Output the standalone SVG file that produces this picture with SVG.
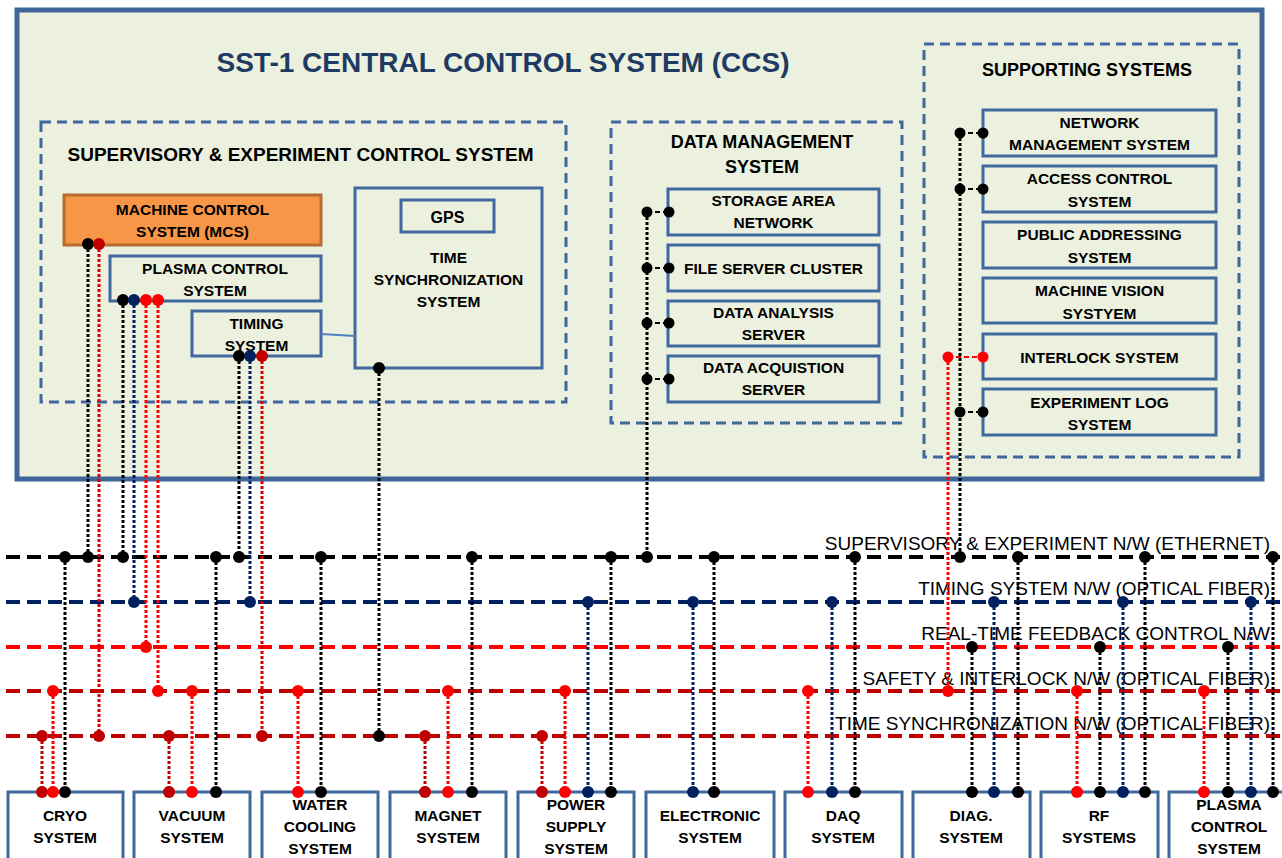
<svg xmlns="http://www.w3.org/2000/svg" width="1282" height="858" viewBox="0 0 1282 858">
<style>
text{font-family:"Liberation Sans",Arial,sans-serif;fill:#000}
.ccs{fill:#EBF1DE;stroke:#3F6497;stroke-width:5}
.grp{fill:none;stroke:#41689E;stroke-width:3;stroke-dasharray:10 6}
.box{fill:#EBF1DE;stroke:#41689E;stroke-width:3}
.wbox{fill:#FFFFFF;stroke:#41689E;stroke-width:3}
.mcs{fill:#F79646;stroke:#B66D31;stroke-width:3}
.t{font-size:15.5px;font-weight:bold;text-anchor:middle}
.h{font-size:18px;font-weight:bold;text-anchor:middle}
.ttl{font-size:28px;font-weight:bold;text-anchor:middle;fill:#1F3B63}
.nl{font-size:19px;text-anchor:end}
.net{fill:none;stroke-width:4;stroke-dasharray:14 7}
.drop{fill:none;stroke-width:3;stroke-dasharray:3 2}
.sd{fill:none;stroke-width:2;stroke-dasharray:5 3}
.k{stroke:#000}.n{stroke:#002060}.r{stroke:#FF0000}.d{stroke:#C00000}.dl{stroke:#D40000}
.kf{fill:#000}.nf{fill:#002060}.rf{fill:#FF0000}.df{fill:#C00000}
</style>

<g id="ccs">
<rect class="ccs" x="17" y="10" width="1245" height="469"/>
<text class="ttl" x="503" y="72">SST-1 CENTRAL CONTROL SYSTEM (CCS)</text>
</g>

<g id="supervisory">
<rect class="grp" x="41" y="122" width="525" height="280"/>
<text class="t" x="300.5" y="161" style="font-size:19px">SUPERVISORY &amp; EXPERIMENT CONTROL SYSTEM</text>
</g>
<g id="mcs">
<rect class="mcs" x="64" y="195" width="257" height="50"/>
<text class="t" x="192.5" y="214.5">MACHINE CONTROL</text>
<text class="t" x="192.5" y="236.5">SYSTEM (MCS)</text>
</g>
<g id="pcs">
<rect class="box" x="110" y="256" width="211" height="45"/>
<text class="t" x="215" y="273.5">PLASMA CONTROL</text>
<text class="t" x="215" y="295.5">SYSTEM</text>
</g>
<g id="timing">
<rect class="box" x="192" y="311" width="129" height="45"/>
<text class="t" x="256.5" y="328.5">TIMING</text>
<text class="t" x="256.5" y="350.5">SYSTEM</text>
</g>
<g id="tss">
<rect class="box" x="355" y="188" width="187" height="180"/>
<text class="t" x="448.5" y="262.5">TIME</text>
<text class="t" x="448.5" y="284.5">SYNCHRONIZATION</text>
<text class="t" x="448.5" y="306.5">SYSTEM</text>
</g>
<g id="gps">
<rect class="box" x="401" y="200" width="93" height="32"/>
<text class="t" x="447.5" y="222.5" style="font-size:16px">GPS</text>
</g>

<g id="dms">
<rect class="grp" x="611" y="122" width="291" height="301"/>
<text class="h" x="762" y="147.5">DATA MANAGEMENT</text>
<text class="h" x="762" y="172.5">SYSTEM</text>
</g>
<g id="san">
<rect class="box" x="668" y="189" width="211" height="46"/>
<text class="t" x="773.5" y="205.5">STORAGE AREA</text>
<text class="t" x="773.5" y="227.5">NETWORK</text>
</g>
<g id="fsc">
<rect class="box" x="668" y="245" width="211" height="46"/>
<text class="t" x="773.5" y="273.5">FILE SERVER CLUSTER</text>
</g>
<g id="das">
<rect class="box" x="668" y="301" width="211" height="45"/>
<text class="t" x="773.5" y="317.5">DATA ANALYSIS</text>
<text class="t" x="773.5" y="339.5">SERVER</text>
</g>
<g id="daqs">
<rect class="box" x="668" y="356" width="211" height="46"/>
<text class="t" x="773.5" y="372.5">DATA ACQUISTION</text>
<text class="t" x="773.5" y="394.5">SERVER</text>
</g>

<g id="supporting">
<rect class="grp" x="924" y="44" width="315" height="413"/>
<text class="h" x="1087" y="76">SUPPORTING SYSTEMS</text>
</g>
<g id="nms">
<rect class="box" x="983" y="110" width="233" height="46"/>
<text class="t" x="1099.5" y="127.5">NETWORK</text>
<text class="t" x="1099.5" y="149.5">MANAGEMENT SYSTEM</text>
</g>
<g id="acs">
<rect class="box" x="983" y="166" width="233" height="46"/>
<text class="t" x="1099.5" y="183.5">ACCESS CONTROL</text>
<text class="t" x="1099.5" y="206.5">SYSTEM</text>
</g>
<g id="pas">
<rect class="box" x="983" y="222" width="233" height="46"/>
<text class="t" x="1099.5" y="239.5">PUBLIC ADDRESSING</text>
<text class="t" x="1099.5" y="262.5">SYSTEM</text>
</g>
<g id="mvs">
<rect class="box" x="983" y="278" width="233" height="45"/>
<text class="t" x="1099.5" y="295.5">MACHINE VISION</text>
<text class="t" x="1099.5" y="318.5">SYSTYEM</text>
</g>
<g id="interlock">
<rect class="box" x="983" y="334" width="233" height="45"/>
<text class="t" x="1099.5" y="362.5">INTERLOCK SYSTEM</text>
</g>
<g id="explog">
<rect class="box" x="983" y="389" width="233" height="46"/>
<text class="t" x="1099.5" y="407.5">EXPERIMENT LOG</text>
<text class="t" x="1099.5" y="429.5">SYSTEM</text>
</g>

<g id="cryo"><rect class="wbox" x="8" y="792" width="115" height="80"/>
<text class="t" x="65" y="820.5">CRYO</text><text class="t" x="65" y="842.5">SYSTEM</text></g>
<g id="vacuum"><rect class="wbox" x="134" y="792" width="116" height="80"/>
<text class="t" x="192" y="820.5">VACUUM</text><text class="t" x="192" y="842.5">SYSTEM</text></g>
<g id="water"><rect class="wbox" x="262" y="792" width="116" height="80"/>
<text class="t" x="320" y="809.5">WATER</text><text class="t" x="320" y="831.5">COOLING</text><text class="t" x="320" y="853.5">SYSTEM</text></g>
<g id="magnet"><rect class="wbox" x="390" y="792" width="116" height="80"/>
<text class="t" x="448" y="820.5">MAGNET</text><text class="t" x="448" y="842.5">SYSTEM</text></g>
<g id="power"><rect class="wbox" x="518" y="792" width="116" height="80"/>
<text class="t" x="576" y="809.5">POWER</text><text class="t" x="576" y="831.5">SUPPLY</text><text class="t" x="576" y="853.5">SYSTEM</text></g>
<g id="electronic"><rect class="wbox" x="646" y="792" width="128" height="80"/>
<text class="t" x="710" y="820.5">ELECTRONIC</text><text class="t" x="710" y="842.5">SYSTEM</text></g>
<g id="daq"><rect class="wbox" x="785" y="792" width="117" height="80"/>
<text class="t" x="843" y="820.5">DAQ</text><text class="t" x="843" y="842.5">SYSTEM</text></g>
<g id="diag"><rect class="wbox" x="913" y="792" width="117" height="80"/>
<text class="t" x="971" y="820.5">DIAG.</text><text class="t" x="971" y="842.5">SYSTEM</text></g>
<g id="rf"><rect class="wbox" x="1041" y="792" width="117" height="80"/>
<text class="t" x="1099" y="820.5">RF</text><text class="t" x="1099" y="842.5">SYSTEMS</text></g>
<g id="plasma"><rect class="wbox" x="1169" y="792" width="125" height="80"/>
<text class="t" x="1229" y="809.5">PLASMA</text><text class="t" x="1229" y="831.5">CONTROL</text><text class="t" x="1229" y="853.5">SYSTEM</text></g>

<g id="networks">
<line class="net k" x1="6" y1="557" x2="1280" y2="557"/>
<line class="net n" x1="6" y1="602" x2="1280" y2="602"/>
<line class="net r" x1="6" y1="647" x2="1280" y2="647"/>
<line class="net d" x1="6" y1="691" x2="1280" y2="691"/>
<line class="net d" x1="6" y1="736" x2="1280" y2="736"/>
<text class="nl" x="1270" y="550">SUPERVISORY &amp; EXPERIMENT N/W (ETHERNET)</text>
<text class="nl" x="1270" y="595">TIMING SYSTEM N/W (OPTICAL FIBER)</text>
<text class="nl" x="1270" y="640">REAL-TIME FEEDBACK CONTROL N/W</text>
<text class="nl" x="1270" y="685">SAFETY &amp; INTERLOCK N/W (OPTICAL FIBER)</text>
<text class="nl" x="1270" y="730">TIME SYNCHRONIZATION N/W (OPTICAL FIBER)</text>
</g>

<g id="connectors">
<line x1="321" y1="334" x2="355" y2="336" stroke="#4F81BD" stroke-width="2"/>
<!-- short stubs -->
<line class="sd k" x1="647" y1="212" x2="669" y2="212"/>
<line class="sd k" x1="647" y1="268" x2="669" y2="268"/>
<line class="sd k" x1="647" y1="323" x2="669" y2="323"/>
<line class="sd k" x1="647" y1="379" x2="669" y2="379"/>
<line class="sd k" x1="960" y1="133" x2="983" y2="133"/>
<line class="sd k" x1="960" y1="189" x2="983" y2="189"/>
<line class="sd k" x1="960" y1="412" x2="983" y2="412"/>
<line class="sd r" x1="948" y1="357" x2="983" y2="357"/>
<!-- upper drops -->
<line class="drop k" x1="88" y1="244" x2="88" y2="557"/>
<line class="drop dl" x1="99" y1="244" x2="99" y2="736"/>
<line class="drop k" x1="123" y1="300" x2="123" y2="557"/>
<line class="drop n" x1="134" y1="300" x2="134" y2="602"/>
<line class="drop r" x1="146" y1="300" x2="146" y2="647"/>
<line class="drop r" x1="158" y1="300" x2="158" y2="691"/>
<line class="drop k" x1="239" y1="356" x2="239" y2="557"/>
<line class="drop n" x1="250" y1="356" x2="250" y2="602"/>
<line class="drop dl" x1="262" y1="356" x2="262" y2="736"/>
<line class="drop k" x1="379" y1="368" x2="379" y2="736"/>
<line class="drop k" x1="647" y1="212" x2="647" y2="557"/>
<line class="drop k" x1="960" y1="133" x2="960" y2="557"/>
<line class="drop r" x1="948" y1="357" x2="948" y2="691"/>
<!-- lower drops: ethernet -->
<g class="drop k">
<line x1="65" y1="557" x2="65" y2="792"/><line x1="216" y1="557" x2="216" y2="792"/>
<line x1="321" y1="557" x2="321" y2="792"/><line x1="472" y1="557" x2="472" y2="792"/>
<line x1="611" y1="557" x2="611" y2="792"/><line x1="714" y1="557" x2="714" y2="792"/>
<line x1="855" y1="557" x2="855" y2="792"/><line x1="1018" y1="557" x2="1018" y2="792"/>
<line x1="1145" y1="557" x2="1145" y2="792"/><line x1="1273" y1="557" x2="1273" y2="792"/>
<line x1="972" y1="647" x2="972" y2="792"/><line x1="1100" y1="647" x2="1100" y2="792"/>
<line x1="1228" y1="647" x2="1228" y2="792"/>
</g>
<g class="drop n">
<line x1="588" y1="602" x2="588" y2="792"/><line x1="693" y1="602" x2="693" y2="792"/>
<line x1="832" y1="602" x2="832" y2="792"/><line x1="994" y1="602" x2="994" y2="792"/>
<line x1="1123" y1="602" x2="1123" y2="792"/><line x1="1251" y1="602" x2="1251" y2="792"/>
</g>
<g class="drop r">
<line x1="53" y1="691" x2="53" y2="792"/><line x1="192" y1="691" x2="192" y2="792"/>
<line x1="298" y1="691" x2="298" y2="792"/><line x1="448" y1="691" x2="448" y2="792"/>
<line x1="565" y1="691" x2="565" y2="792"/><line x1="808" y1="691" x2="808" y2="792"/>
<line x1="1077" y1="691" x2="1077" y2="792"/><line x1="1204" y1="691" x2="1204" y2="792"/>
</g>
<g class="drop d">
<line x1="42" y1="736" x2="42" y2="792"/><line x1="169" y1="736" x2="169" y2="792"/>
<line x1="425" y1="736" x2="425" y2="792"/><line x1="542" y1="736" x2="542" y2="792"/>
</g>
<!-- dots: sources -->
<g class="kf">
<circle cx="88" cy="244" r="6"/><circle cx="123" cy="300" r="6"/><circle cx="239" cy="356" r="6"/>
<circle cx="379" cy="368" r="6"/>
<circle cx="647" cy="212" r="5.5"/><circle cx="669" cy="212" r="5.5"/>
<circle cx="647" cy="268" r="5.5"/><circle cx="669" cy="268" r="5.5"/>
<circle cx="647" cy="323" r="5.5"/><circle cx="669" cy="323" r="5.5"/>
<circle cx="647" cy="379" r="5.5"/><circle cx="669" cy="379" r="5.5"/>
<circle cx="960" cy="133" r="5.5"/><circle cx="983" cy="133" r="5.5"/>
<circle cx="960" cy="189" r="5.5"/><circle cx="983" cy="189" r="5.5"/>
<circle cx="960" cy="412" r="5.5"/><circle cx="983" cy="412" r="5.5"/>
</g>
<g class="df"><circle cx="99" cy="244" r="6"/><circle cx="262" cy="356" r="6"/></g>
<g class="nf"><circle cx="134" cy="300" r="6"/><circle cx="250" cy="356" r="6"/></g>
<g class="rf"><circle cx="146" cy="300" r="6"/><circle cx="158" cy="300" r="6"/>
<circle cx="948" cy="357" r="5.5"/><circle cx="983" cy="357" r="5.5"/></g>
<!-- dots on networks -->
<g class="kf">
<circle cx="65" cy="557" r="6"/><circle cx="88" cy="557" r="6"/><circle cx="123" cy="557" r="6"/>
<circle cx="216" cy="557" r="6"/><circle cx="239" cy="557" r="6"/><circle cx="321" cy="557" r="6"/>
<circle cx="472" cy="557" r="6"/><circle cx="611" cy="557" r="6"/><circle cx="647" cy="557" r="6"/>
<circle cx="714" cy="557" r="6"/><circle cx="855" cy="557" r="6"/><circle cx="960" cy="557" r="6"/>
<circle cx="1018" cy="557" r="6"/><circle cx="1145" cy="557" r="6"/><circle cx="1273" cy="557" r="6"/>
<circle cx="972" cy="647" r="6"/><circle cx="1100" cy="647" r="6"/><circle cx="1228" cy="647" r="6"/>
<circle cx="379" cy="736" r="6"/>
</g>
<g class="nf">
<circle cx="134" cy="602" r="6"/><circle cx="250" cy="602" r="6"/><circle cx="588" cy="602" r="6"/>
<circle cx="693" cy="602" r="6"/><circle cx="832" cy="602" r="6"/><circle cx="994" cy="602" r="6"/>
<circle cx="1123" cy="602" r="6"/><circle cx="1251" cy="602" r="6"/>
</g>
<g class="rf">
<circle cx="146" cy="647" r="6"/>
<circle cx="53" cy="691" r="6"/><circle cx="158" cy="691" r="6"/><circle cx="192" cy="691" r="6"/>
<circle cx="298" cy="691" r="6"/><circle cx="448" cy="691" r="6"/><circle cx="565" cy="691" r="6"/>
<circle cx="808" cy="691" r="6"/><circle cx="948" cy="691" r="6"/><circle cx="1077" cy="691" r="6"/>
<circle cx="1204" cy="691" r="6"/>
</g>
<g class="df">
<circle cx="42" cy="736" r="6"/><circle cx="99" cy="736" r="6"/><circle cx="169" cy="736" r="6"/>
<circle cx="262" cy="736" r="6"/><circle cx="425" cy="736" r="6"/><circle cx="542" cy="736" r="6"/>
</g>
<!-- dots at subsystem boxes -->
<g class="kf">
<circle cx="65" cy="792" r="6"/><circle cx="216" cy="792" r="6"/><circle cx="321" cy="792" r="6"/>
<circle cx="472" cy="792" r="6"/><circle cx="611" cy="792" r="6"/><circle cx="714" cy="792" r="6"/>
<circle cx="855" cy="792" r="6"/><circle cx="972" cy="792" r="6"/><circle cx="1018" cy="792" r="6"/>
<circle cx="1100" cy="792" r="6"/><circle cx="1145" cy="792" r="6"/><circle cx="1228" cy="792" r="6"/>
<circle cx="1273" cy="792" r="6"/>
</g>
<g class="nf">
<circle cx="588" cy="792" r="6"/><circle cx="693" cy="792" r="6"/><circle cx="832" cy="792" r="6"/>
<circle cx="994" cy="792" r="6"/><circle cx="1123" cy="792" r="6"/><circle cx="1251" cy="792" r="6"/>
</g>
<g class="rf">
<circle cx="53" cy="792" r="6"/><circle cx="192" cy="792" r="6"/><circle cx="298" cy="792" r="6"/>
<circle cx="448" cy="792" r="6"/><circle cx="565" cy="792" r="6"/><circle cx="808" cy="792" r="6"/>
<circle cx="1077" cy="792" r="6"/><circle cx="1204" cy="792" r="6"/>
</g>
<g class="df">
<circle cx="42" cy="792" r="6"/><circle cx="169" cy="792" r="6"/><circle cx="425" cy="792" r="6"/>
<circle cx="542" cy="792" r="6"/>
</g>
</g>
</svg>
